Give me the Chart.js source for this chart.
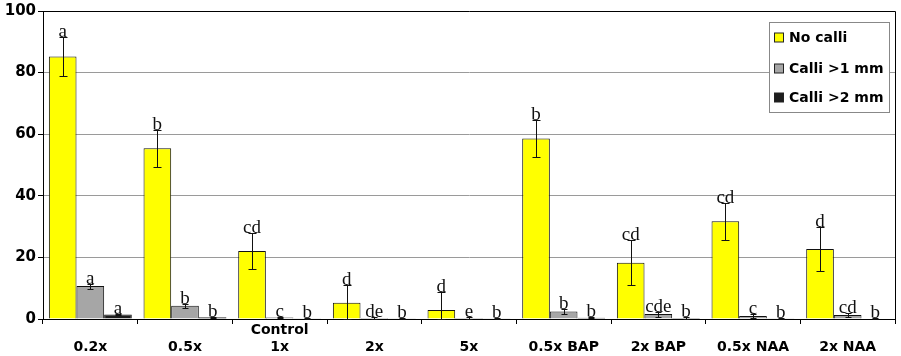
<!DOCTYPE html>
<html>
<head>
<meta charset="utf-8">
<script src="https://cdn.jsdelivr.net/npm/chart.js@4.4.1/dist/chart.umd.min.js"></script>
<style>
  html, body { margin: 0; padding: 0; background: #fff; }
  canvas { display: block; }
</style>
</head>
<body>
<canvas id="c" width="901" height="356"></canvas>
<script>
// Treatments (first line only used for the control group)
const categories = [
  ["", "0.2x"], ["", "0.5x"], ["Control", "1x"], ["", "2x"], ["", "5x"],
  ["", "0.5x BAP"], ["", "2x BAP"], ["", "0.5x NAA"], ["", "2x NAA"]
];

const seriesNames = ["No calli", "Calli >1 mm", "Calli >2 mm"];

// Percentages per treatment
const noCalli   = [85.2, 55.4, 22.1, 5.3, 2.9, 58.6, 18.3, 31.7, 22.7];
const calli1mm  = [10.7, 4.3, 0.5, 0.3, 0.3, 2.4, 1.6, 1.0, 1.3];
const calli2mm  = [1.5, 0.6, 0.1, 0.1, 0.1, 0.4, 0.3, 0.1, 0.2];

// Standard errors
const noCalliErr  = [6.4, 6.0, 5.9, 5.9, 5.9, 6.0, 7.3, 5.9, 7.2];
const calli1mmErr = [0.8, 0.7, 0.3, 0.2, 0.2, 0.7, 0.8, 0.6, 0.7];
const calli2mmErr = [0.2, 0.2, 0.1, 0.1, 0.1, 0.2, 0.2, 0.1, 0.2];

// Significance letters
const noCalliSig  = ["a", "b", "cd", "d", "d", "b", "cd", "cd", "d"];
const calli1mmSig = ["a", "b", "c", "de", "e", "b", "cde", "c", "cd"];
const calli2mmSig = ["a", "b", "b", "b", "b", "b", "b", "b", "b"];

const yTicks = [0, 20, 40, 60, 80, 100];

const errors = [noCalliErr, calli1mmErr, calli2mmErr];
const sigs = [noCalliSig, calli1mmSig, calli2mmSig];
const fills = ["#ffff00", "#a6a6a6", "#1e1e1e"];

const decorations = {
  id: "decorations",
  afterDatasetsDraw(chart) {
    const { ctx, chartArea: a, scales: { y } } = chart;
    ctx.save();
    // frame: top and right edges
    ctx.strokeStyle = "#000";
    ctx.lineWidth = 1;
    ctx.beginPath();
    ctx.moveTo(a.left, Math.round(a.top) + 0.5);
    ctx.lineTo(Math.round(a.right) + 0.5, Math.round(a.top) + 0.5);
    ctx.lineTo(Math.round(a.right) + 0.5, a.bottom);
    ctx.stroke();

    // error bars and letters
    chart.data.datasets.forEach((ds, i) => {
      const meta = chart.getDatasetMeta(i);
      meta.data.forEach((bar, j) => {
        const v = ds.data[j], e = errors[i][j];
        const x = Math.round(bar.x) + 0.5;
        const yT = Math.round(y.getPixelForValue(v + e)) + 0.5;
        const yB = Math.round(y.getPixelForValue(Math.max(v - e, 0))) + 0.5;
        const cap = i === 0 ? 4 : 3;
        ctx.strokeStyle = "#111";
        ctx.lineWidth = 1;
        ctx.beginPath();
        ctx.moveTo(x, yT); ctx.lineTo(x, yB);
        ctx.moveTo(x - cap, yT); ctx.lineTo(x + cap, yT);
        ctx.moveTo(x - cap, yB); ctx.lineTo(x + cap, yB);
        ctx.stroke();
        ctx.fillStyle = "#111";
        ctx.font = "19px 'Liberation Serif', 'Times New Roman', serif";
        ctx.textAlign = "center";
        ctx.textBaseline = "alphabetic";
        ctx.fillText(sigs[i][j], bar.x, yT - 1);
      });
    });

    // legend box
    const lx = 769.5, ly = 22.5, lw = 120, lh = 90;
    ctx.fillStyle = "#fff";
    ctx.fillRect(lx, ly, lw, lh);
    ctx.strokeStyle = "#888";
    ctx.strokeRect(lx, ly, lw, lh);
    const rows = [37.5, 68.5, 97.5];
    ctx.font = "bold 14px 'DejaVu Sans', sans-serif";
    ctx.textAlign = "left";
    ctx.textBaseline = "middle";
    seriesNames.forEach((name, k) => {
      const cy = rows[k];
      ctx.fillStyle = fills[k];
      ctx.fillRect(774.5, cy - 4.5, 9, 9);
      ctx.strokeStyle = "#222";
      ctx.strokeRect(774.5, cy - 4.5, 9, 9);
      ctx.fillStyle = "#000";
      ctx.fillText(name, 789, cy + 1);
    });
    ctx.restore();
  }
};

new Chart(document.getElementById("c"), {
  type: "bar",
  data: {
    labels: categories,
    datasets: [
      { label: seriesNames[0], data: noCalli, backgroundColor: fills[0] },
      { label: seriesNames[1], data: calli1mm, backgroundColor: fills[1] },
      { label: seriesNames[2], data: calli2mm, backgroundColor: fills[2] }
    ]
  },
  options: {
    responsive: false,
    animation: false,
    devicePixelRatio: 1,
    layout: { padding: { top: 10, right: 6, left: 0, bottom: 0 } },
    datasets: {
      bar: {
        categoryPercentage: 0.876,
        barPercentage: 1,
        borderColor: "#111",
        borderWidth: 1
      }
    },
    plugins: {
      legend: { display: false },
      tooltip: { enabled: false }
    },
    scales: {
      x: {
        offset: true,
        grid: { offset: true, drawOnChartArea: false, tickLength: 5, tickColor: "#000" },
        border: { color: "#000", width: 1 },
        ticks: {
          color: "#000",
          padding: -2,
          maxRotation: 0,
          autoSkip: false,
          font: { family: "'DejaVu Sans', sans-serif", weight: "bold", size: 14 }
        },
        afterFit: s => { s.height = 37; }
      },
      y: {
        min: 0,
        max: 100,
        afterBuildTicks: s => { s.ticks = yTicks.map(v => ({ value: v })); },
        grid: {
          color: c => (c.tick && (c.tick.value === 100 || c.tick.value === 0)) ? "rgba(0,0,0,0)" : "#9a9a9a",
          tickColor: "#000",
          tickLength: 5
        },
        border: { color: "#000", width: 1 },
        ticks: {
          color: "#000",
          padding: 2,
          font: { family: "'DejaVu Sans', sans-serif", weight: "bold", size: 15 }
        },
        afterFit: s => { s.width = 43; }
      }
    }
  },
  plugins: [decorations]
});
</script>
</body>
</html>
